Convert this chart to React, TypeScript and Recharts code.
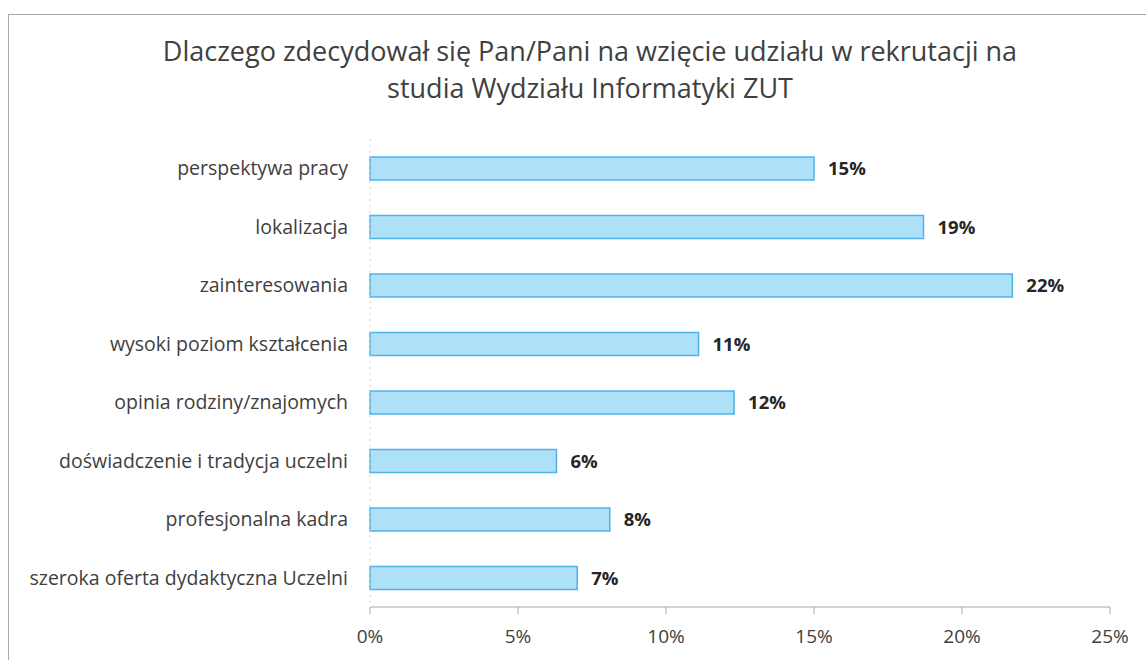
import { BarChart, Bar, XAxis, YAxis, LabelList } from 'recharts';

const categories = [
    'perspektywa pracy',
    'lokalizacja',
    'zainteresowania',
    'wysoki poziom kształcenia',
    'opinia rodziny/znajomych',
    'doświadczenie i tradycja uczelni',
    'profesjonalna kadra',
    'szeroka oferta dydaktyczna Uczelni',
];
const shares = [0.150, 0.187, 0.217, 0.111, 0.123, 0.063, 0.081, 0.070];
const xTicks = [0, 0.05, 0.1, 0.15, 0.2, 0.25];
const titleLines = [
    'Dlaczego zdecydował się Pan/Pani na wzięcie udziału w rekrutacji na',
    'studia Wydziału Informatyki ZUT',
];

const data = categories.map((name, i) => ({ name, value: shares[i] }));

const font = '"Open Sans", Lato, sans-serif';
const pct = (v: number) => `${Math.round(v * 100)}%`;

export default function App() {
    return (
        <div style={{ position: 'absolute', left: 0, top: 0, width: 1146, height: 660, background: '#fff', fontFamily: font, overflow: 'hidden' }}>
            {/* frame */}
            <div style={{ position: 'absolute', left: 8, top: 14, width: 1160, height: 700, border: '1px solid #a6a6b0' }} />
            <div style={{ position: 'absolute', left: 0, top: 32, width: 1180, textAlign: 'center', fontSize: 27, lineHeight: '37px', color: '#404040' }}>
                {titleLines.map((t) => (
                    <div key={t}>{t}</div>
                ))}
            </div>
            <div style={{ position: 'absolute', left: 0, top: 0 }}>
                <BarChart
                    width={1146}
                    height={660}
                    data={data}
                    layout="vertical"
                    margin={{ top: 139, right: 36, bottom: 13, left: 0 }}
                >
                    <XAxis
                        type="number"
                        domain={[0, 0.25]}
                        ticks={xTicks}
                        tickFormatter={pct}
                        height={40}
                        stroke="#a6a6b0"
                        tickSize={7}
                        tickMargin={16}
                        tick={{ fill: '#404040', fontSize: 19, fontFamily: font }}
                    />
                    <YAxis
                        type="category"
                        dataKey="name"
                        width={370}
                        axisLine={{ stroke: '#d0d0d8', strokeDasharray: '2 4' }}
                        tickLine={false}
                        tickMargin={16}
                        tick={{ fill: '#404040', fontSize: 19.5, fontFamily: font }}
                    />
                    <Bar dataKey="value" barSize={23} fill="#aee0f7" stroke="#4fb3ea" strokeWidth={1.5} isAnimationActive={false}>
                        <LabelList
                            dataKey="value"
                            position="right"
                            offset={14}
                            formatter={(v: any) => pct(Number(v))}
                            style={{ fill: '#262626', fontSize: 18.5, fontWeight: 700, fontFamily: font }}
                        />
                    </Bar>
                </BarChart>
            </div>
        </div>
    );
}
